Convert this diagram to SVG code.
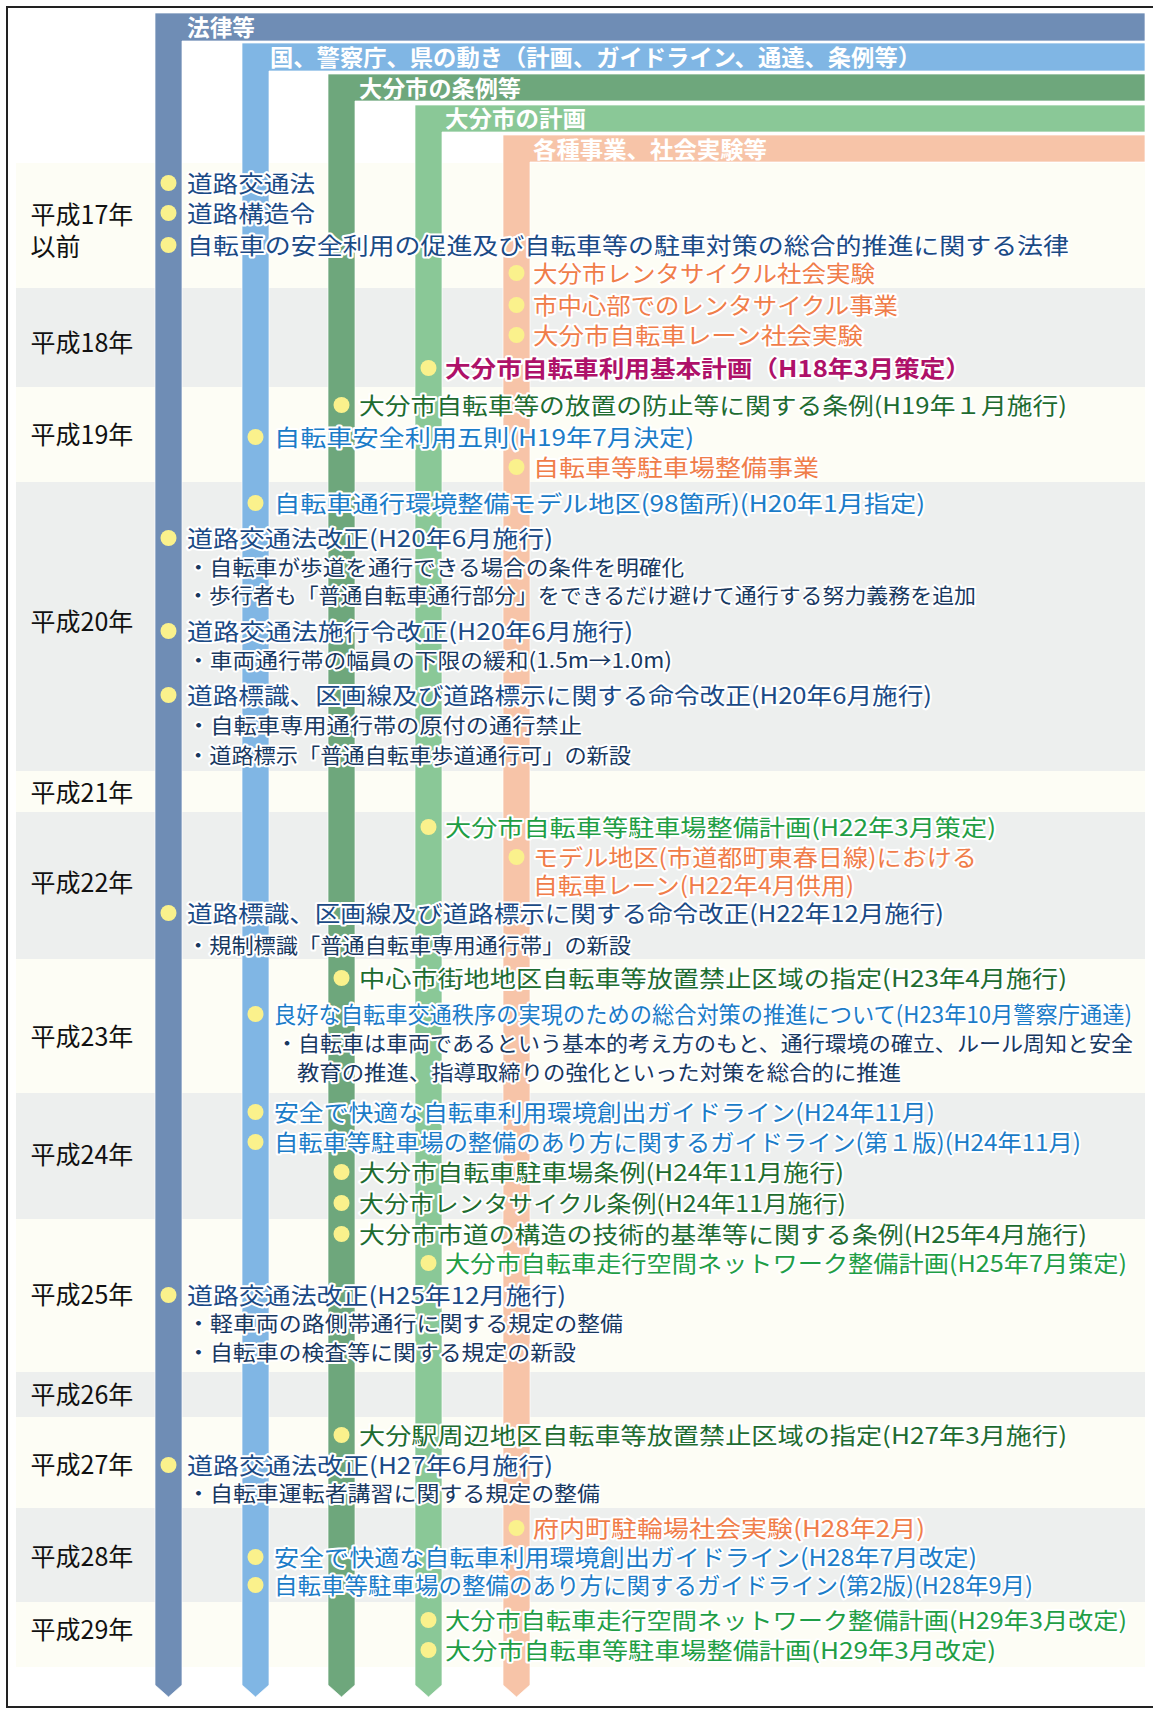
<svg xmlns="http://www.w3.org/2000/svg" width="1153" height="1709" viewBox="0 0 1153 1709">
<style>
.t{font-family:"Noto Sans CJK JP","Noto Sans CJK SC",sans-serif;stroke:#fff;stroke-width:4;stroke-linejoin:round;paint-order:stroke;}
.m{font-size:23px;}
.s{font-size:21px;fill:#18385F;}
.nv{fill:#1A4A85;}
.lb{fill:#1B7CC8;}
.dg{fill:#1E6C30;}
.gr{fill:#1F9E45;}
.or{fill:#F07D4A;}
.mg{fill:#AE1169;font-weight:bold;}
.yr{font-family:"Noto Sans CJK JP","Noto Sans CJK SC",sans-serif;font-size:25px;fill:#111;}
.hd{font-family:"Noto Sans CJK JP","Noto Sans CJK SC",sans-serif;font-size:23px;font-weight:bold;fill:#fff;}
.dot{fill:#FAF18C;}
.cream{fill:#FDFDF5;}
.gray{fill:#EDEFEE;}
.col{stroke:#ffffff;stroke-opacity:0.7;stroke-width:1;}
</style>
<rect x="0" y="0" width="1153" height="1709" fill="#fff"/>
<rect x="7" y="7" width="1152" height="1700" fill="none" stroke="#222" stroke-width="2"/>
<g id="rows">
<rect class="cream" x="16" y="163" width="1129" height="125"/>
<rect class="gray" x="16" y="288" width="1129" height="99"/>
<rect class="cream" x="16" y="387" width="1129" height="95"/>
<rect class="gray" x="16" y="482" width="1129" height="289"/>
<rect class="cream" x="16" y="771" width="1129" height="41"/>
<rect class="gray" x="16" y="812" width="1129" height="147"/>
<rect class="cream" x="16" y="959" width="1129" height="134"/>
<rect class="gray" x="16" y="1093" width="1129" height="126"/>
<rect class="cream" x="16" y="1219" width="1129" height="153"/>
<rect class="gray" x="16" y="1372" width="1129" height="45"/>
<rect class="cream" x="16" y="1417" width="1129" height="91"/>
<rect class="gray" x="16" y="1508" width="1129" height="94"/>
<rect class="cream" x="16" y="1602" width="1129" height="65"/>
</g>
<g id="years">
<text class="yr" x="30.5" y="224">平成17年</text>
<text class="yr" x="30.5" y="256">以前</text>
<text class="yr" x="30.5" y="352">平成18年</text>
<text class="yr" x="30.5" y="444">平成19年</text>
<text class="yr" x="30.5" y="631">平成20年</text>
<text class="yr" x="30.5" y="802">平成21年</text>
<text class="yr" x="30.5" y="892">平成22年</text>
<text class="yr" x="30.5" y="1046">平成23年</text>
<text class="yr" x="30.5" y="1164">平成24年</text>
<text class="yr" x="30.5" y="1304">平成25年</text>
<text class="yr" x="30.5" y="1404">平成26年</text>
<text class="yr" x="30.5" y="1474">平成27年</text>
<text class="yr" x="30.5" y="1566">平成28年</text>
<text class="yr" x="30.5" y="1639">平成29年</text>
</g>
<g id="col-law">
<path class="col" fill="#6F8DB5" d="M155,13 H1145 V41 H182 V1685 L168.5,1697 L155,1685 Z"/>
<text class="hd" x="187" y="35.5" textLength="68" lengthAdjust="spacingAndGlyphs">法律等</text>
</g>
<g id="col-national">
<path class="col" fill="#80B6E4" d="M242,43 H1145 V71 H269 V1685 L255.5,1697 L242,1685 Z"/>
<text class="hd" x="270" y="65.5" textLength="651" lengthAdjust="spacingAndGlyphs">国、警察庁、県の動き（計画、ガイドライン、通達、条例等）</text>
</g>
<g id="col-ordinance">
<path class="col" fill="#6EA77C" d="M328,74 H1145 V101 H355 V1685 L341.5,1697 L328,1685 Z"/>
<text class="hd" x="359" y="96.5" textLength="162" lengthAdjust="spacingAndGlyphs">大分市の条例等</text>
</g>
<g id="col-plan">
<path class="col" fill="#8AC897" d="M415,105 H1145 V132 H442 V1685 L428.5,1697 L415,1685 Z"/>
<text class="hd" x="445" y="126.5" textLength="141" lengthAdjust="spacingAndGlyphs">大分市の計画</text>
</g>
<g id="col-projects">
<path class="col" fill="#F7C4A8" d="M503,135 H1145 V162 H530 V1685 L516.5,1697 L503,1685 Z"/>
<text class="hd" x="533" y="157.5" textLength="234" lengthAdjust="spacingAndGlyphs">各種事業、社会実験等</text>
</g>
<g id="connectors"></g>
<g id="items">
<g id="i1"><circle class="dot" cx="168.5" cy="183" r="8"/><text class="t m nv" x="187" y="191.5" textLength="128" lengthAdjust="spacingAndGlyphs">道路交通法</text></g>
<g id="i2"><circle class="dot" cx="168.5" cy="213" r="8"/><text class="t m nv" x="187" y="221.5" textLength="128" lengthAdjust="spacingAndGlyphs">道路構造令</text></g>
<g id="i3"><circle class="dot" cx="168.5" cy="245" r="8"/><text class="t m nv" x="187" y="253.5" textLength="882" lengthAdjust="spacingAndGlyphs">自転車の安全利用の促進及び自転車等の駐車対策の総合的推進に関する法律</text></g>
<g id="i4"><circle class="dot" cx="516.5" cy="273" r="8"/><text class="t m or" x="533" y="281.5" textLength="342" lengthAdjust="spacingAndGlyphs">大分市レンタサイクル社会実験</text></g>
<g id="i5"><circle class="dot" cx="516.5" cy="305" r="8"/><text class="t m or" x="533" y="313.5" textLength="365" lengthAdjust="spacingAndGlyphs">市中心部でのレンタサイクル事業</text></g>
<g id="i6"><circle class="dot" cx="516.5" cy="335" r="8"/><text class="t m or" x="533" y="343.5" textLength="330" lengthAdjust="spacingAndGlyphs">大分市自転車レーン社会実験</text></g>
<g id="i7"><circle class="dot" cx="428.5" cy="368" r="8"/><text class="t m mg" x="445" y="376.5" textLength="526" lengthAdjust="spacingAndGlyphs">大分市自転車利用基本計画（H18年3月策定）</text></g>
<g id="i8"><circle class="dot" cx="341.5" cy="405" r="8"/><text class="t m dg" x="359" y="413.5" textLength="708" lengthAdjust="spacingAndGlyphs">大分市自転車等の放置の防止等に関する条例(H19年１月施行)</text></g>
<g id="i9"><circle class="dot" cx="255.5" cy="437" r="8"/><text class="t m lb" x="274" y="445.5" textLength="420" lengthAdjust="spacingAndGlyphs">自転車安全利用五則(H19年7月決定)</text></g>
<g id="i10"><circle class="dot" cx="516.5" cy="467" r="8"/><text class="t m or" x="533" y="475.5" textLength="286" lengthAdjust="spacingAndGlyphs">自転車等駐車場整備事業</text></g>
<g id="i11"><circle class="dot" cx="255.5" cy="503" r="8"/><text class="t m lb" x="274" y="511.5" textLength="651" lengthAdjust="spacingAndGlyphs">自転車通行環境整備モデル地区(98箇所)(H20年1月指定)</text></g>
<g id="i12"><circle class="dot" cx="168.5" cy="538" r="8"/><text class="t m nv" x="187" y="546.5" textLength="366" lengthAdjust="spacingAndGlyphs">道路交通法改正(H20年6月施行)</text>
<text class="t s" x="187" y="575" textLength="497" lengthAdjust="spacingAndGlyphs">・自転車が歩道を通行できる場合の条件を明確化</text>
<text class="t s" x="187" y="603" textLength="789" lengthAdjust="spacingAndGlyphs">・歩行者も「普通自転車通行部分」をできるだけ避けて通行する努力義務を追加</text></g>
<g id="i13"><circle class="dot" cx="168.5" cy="631" r="8"/><text class="t m nv" x="187" y="639.5" textLength="446" lengthAdjust="spacingAndGlyphs">道路交通法施行令改正(H20年6月施行)</text>
<text class="t s" x="187" y="668" textLength="485" lengthAdjust="spacingAndGlyphs">・車両通行帯の幅員の下限の緩和(1.5m→1.0m)</text></g>
<g id="i14"><circle class="dot" cx="168.5" cy="695" r="8"/><text class="t m nv" x="187" y="703.5" textLength="745" lengthAdjust="spacingAndGlyphs">道路標識、区画線及び道路標示に関する命令改正(H20年6月施行)</text>
<text class="t s" x="187" y="733" textLength="395" lengthAdjust="spacingAndGlyphs">・自転車専用通行帯の原付の通行禁止</text>
<text class="t s" x="187" y="763" textLength="444" lengthAdjust="spacingAndGlyphs">・道路標示「普通自転車歩道通行可」の新設</text></g>
<g id="i15"><circle class="dot" cx="428.5" cy="827" r="8"/><text class="t m gr" x="445" y="835.5" textLength="551" lengthAdjust="spacingAndGlyphs">大分市自転車等駐車場整備計画(H22年3月策定)</text></g>
<g id="i16"><circle class="dot" cx="516.5" cy="857" r="8"/><text class="t m or" x="533" y="865.5" textLength="444" lengthAdjust="spacingAndGlyphs">モデル地区(市道都町東春日線)における</text>
<text class="t m or" x="533" y="893.5" textLength="321" lengthAdjust="spacingAndGlyphs">自転車レーン(H22年4月供用)</text></g>
<g id="i17"><circle class="dot" cx="168.5" cy="913" r="8"/><text class="t m nv" x="187" y="921.5" textLength="757" lengthAdjust="spacingAndGlyphs">道路標識、区画線及び道路標示に関する命令改正(H22年12月施行)</text>
<text class="t s" x="187" y="953" textLength="444" lengthAdjust="spacingAndGlyphs">・規制標識「普通自転車専用通行帯」の新設</text></g>
<g id="i18"><circle class="dot" cx="341.5" cy="978" r="8"/><text class="t m dg" x="359" y="986.5" textLength="708" lengthAdjust="spacingAndGlyphs">中心市街地地区自転車等放置禁止区域の指定(H23年4月施行)</text></g>
<g id="i19"><circle class="dot" cx="255.5" cy="1014" r="8"/><text class="t m lb" x="274" y="1022.5" textLength="858" lengthAdjust="spacingAndGlyphs">良好な自転車交通秩序の実現のための総合対策の推進について(H23年10月警察庁通達)</text>
<text class="t s" x="276" y="1051" textLength="857" lengthAdjust="spacingAndGlyphs">・自転車は車両であるという基本的考え方のもと、通行環境の確立、ルール周知と安全</text>
<text class="t s" x="297" y="1080" textLength="604" lengthAdjust="spacingAndGlyphs">教育の推進、指導取締りの強化といった対策を総合的に推進</text></g>
<g id="i20"><circle class="dot" cx="255.5" cy="1112" r="8"/><text class="t m lb" x="274" y="1120.5" textLength="661" lengthAdjust="spacingAndGlyphs">安全で快適な自転車利用環境創出ガイドライン(H24年11月)</text></g>
<g id="i21"><circle class="dot" cx="255.5" cy="1142" r="8"/><text class="t m lb" x="274" y="1150.5" textLength="807" lengthAdjust="spacingAndGlyphs">自転車等駐車場の整備のあり方に関するガイドライン(第１版)(H24年11月)</text></g>
<g id="i22"><circle class="dot" cx="341.5" cy="1172" r="8"/><text class="t m dg" x="359" y="1180.5" textLength="485" lengthAdjust="spacingAndGlyphs">大分市自転車駐車場条例(H24年11月施行)</text></g>
<g id="i23"><circle class="dot" cx="341.5" cy="1203" r="8"/><text class="t m dg" x="359" y="1211.5" textLength="487" lengthAdjust="spacingAndGlyphs">大分市レンタサイクル条例(H24年11月施行)</text></g>
<g id="i24"><circle class="dot" cx="341.5" cy="1234" r="8"/><text class="t m dg" x="359" y="1242.5" textLength="728" lengthAdjust="spacingAndGlyphs">大分市市道の構造の技術的基準等に関する条例(H25年4月施行)</text></g>
<g id="i25"><circle class="dot" cx="428.5" cy="1263" r="8"/><text class="t m gr" x="445" y="1271.5" textLength="682" lengthAdjust="spacingAndGlyphs">大分市自転車走行空間ネットワーク整備計画(H25年7月策定)</text></g>
<g id="i26"><circle class="dot" cx="168.5" cy="1295" r="8"/><text class="t m nv" x="187" y="1303.5" textLength="379" lengthAdjust="spacingAndGlyphs">道路交通法改正(H25年12月施行)</text>
<text class="t s" x="187" y="1331" textLength="436" lengthAdjust="spacingAndGlyphs">・軽車両の路側帯通行に関する規定の整備</text>
<text class="t s" x="187" y="1360" textLength="389" lengthAdjust="spacingAndGlyphs">・自転車の検査等に関する規定の新設</text></g>
<g id="i27"><circle class="dot" cx="341.5" cy="1435" r="8"/><text class="t m dg" x="359" y="1443.5" textLength="708" lengthAdjust="spacingAndGlyphs">大分駅周辺地区自転車等放置禁止区域の指定(H27年3月施行)</text></g>
<g id="i28"><circle class="dot" cx="168.5" cy="1465" r="8"/><text class="t m nv" x="187" y="1473.5" textLength="366" lengthAdjust="spacingAndGlyphs">道路交通法改正(H27年6月施行)</text>
<text class="t s" x="187" y="1501" textLength="413" lengthAdjust="spacingAndGlyphs">・自転車運転者講習に関する規定の整備</text></g>
<g id="i29"><circle class="dot" cx="516.5" cy="1528" r="8"/><text class="t m or" x="533" y="1536.5" textLength="392" lengthAdjust="spacingAndGlyphs">府内町駐輪場社会実験(H28年2月)</text></g>
<g id="i30"><circle class="dot" cx="255.5" cy="1557" r="8"/><text class="t m lb" x="274" y="1565.5" textLength="703" lengthAdjust="spacingAndGlyphs">安全で快適な自転車利用環境創出ガイドライン(H28年7月改定)</text></g>
<g id="i31"><circle class="dot" cx="255.5" cy="1585" r="8"/><text class="t m lb" x="274" y="1593.5" textLength="759" lengthAdjust="spacingAndGlyphs">自転車等駐車場の整備のあり方に関するガイドライン(第2版)(H28年9月)</text></g>
<g id="i32"><circle class="dot" cx="428.5" cy="1620" r="8"/><text class="t m gr" x="445" y="1628.5" textLength="682" lengthAdjust="spacingAndGlyphs">大分市自転車走行空間ネットワーク整備計画(H29年3月改定)</text></g>
<g id="i33"><circle class="dot" cx="428.5" cy="1650" r="8"/><text class="t m gr" x="445" y="1658.5" textLength="551" lengthAdjust="spacingAndGlyphs">大分市自転車等駐車場整備計画(H29年3月改定)</text></g>
</g>
</svg>
